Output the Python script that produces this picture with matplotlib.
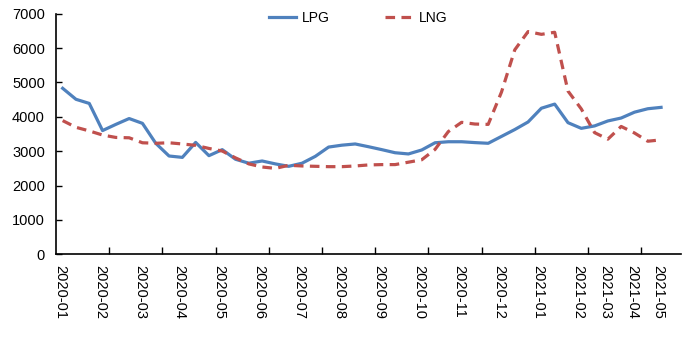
import matplotlib
matplotlib.use("agg")
import matplotlib.pyplot as plt
from matplotlib.ticker import FixedLocator, NullFormatter

# weekly prices, 46 points
lpg = [4830, 4510, 4390, 3600, 3780, 3950, 3810, 3230, 2860, 2820,
       3255, 2870, 3045, 2765, 2650, 2715, 2630, 2560, 2650, 2850,
       3120, 3175, 3210, 3130, 3045, 2955, 2920, 3035, 3245, 3275,
       3275, 3250, 3230, 3430, 3630, 3850, 4250, 4370, 3830, 3665,
       3735, 3880, 3965, 4135, 4235, 4275]
lng = [3890, 3695, 3590, 3470, 3400, 3390, 3245, 3230, 3245, 3210,
       3170, 3080, 3005, 2805, 2630, 2540, 2500, 2590, 2570, 2560,
       2550, 2550, 2570, 2600, 2610, 2610, 2680, 2750, 3050, 3570,
       3840, 3790, 3780, 4720, 5950, 6480, 6400, 6460, 4750, 4230,
       3540, 3350, 3720, 3530, 3290, 3330]
month_pos = [0, 3, 6, 9, 12, 15, 18, 21, 24, 27, 30, 33, 36, 39, 41, 43, 45]
month_labels = ["2020-01", "2020-02", "2020-03", "2020-04", "2020-05",
                "2020-06", "2020-07", "2020-08", "2020-09", "2020-10",
                "2020-11", "2020-12", "2021-01", "2021-02", "2021-03",
                "2021-04", "2021-05"]
n_cats = 47

plt.rcParams['font.family'] = ['Liberation Sans', 'DejaVu Sans']
fig = plt.figure(figsize=(6.89, 3.37), dpi=100)
ax = fig.add_axes([0.0813, 0.2454, 0.9071, 0.7139])

x = range(len(lpg))
ax.plot(x, lpg, color='#4f81bd', lw=2.3, label='LPG')
ax.plot(x, lng, color='#c0504d', lw=2.3, ls=(0, (3, 2)), label='LNG')

ax.set_xlim(-0.5, n_cats - 0.5)
ax.set_ylim(0, 7000)
ax.set_yticks(range(0, 7001, 1000))

ax.xaxis.set_major_locator(FixedLocator([i + 3.5 for i in range(0, 41, 4)]))
ax.xaxis.set_major_formatter(NullFormatter())
ax.xaxis.set_minor_locator(FixedLocator([p - 0.2 for p in month_pos]))
ax.set_xticklabels(month_labels, minor=True, rotation=-90, fontsize=10.5)

ax.tick_params(axis='x', which='major', direction='in', length=5, width=1)
ax.tick_params(axis='x', which='minor', length=0, pad=8)
ax.tick_params(axis='y', direction='in', length=4.5, width=1, pad=8,
               labelsize=10.5)

for s in ['top', 'right']:
    ax.spines[s].set_visible(False)
for s in ['left', 'bottom']:
    ax.spines[s].set_linewidth(1.2)

ax.legend(frameon=False, loc='upper center', ncol=2, fontsize=10,
          bbox_to_anchor=(0.483, 1.065), handlelength=2.0, columnspacing=4.0,
          handletextpad=0.4)

plt.savefig("out.png", dpi=100)
